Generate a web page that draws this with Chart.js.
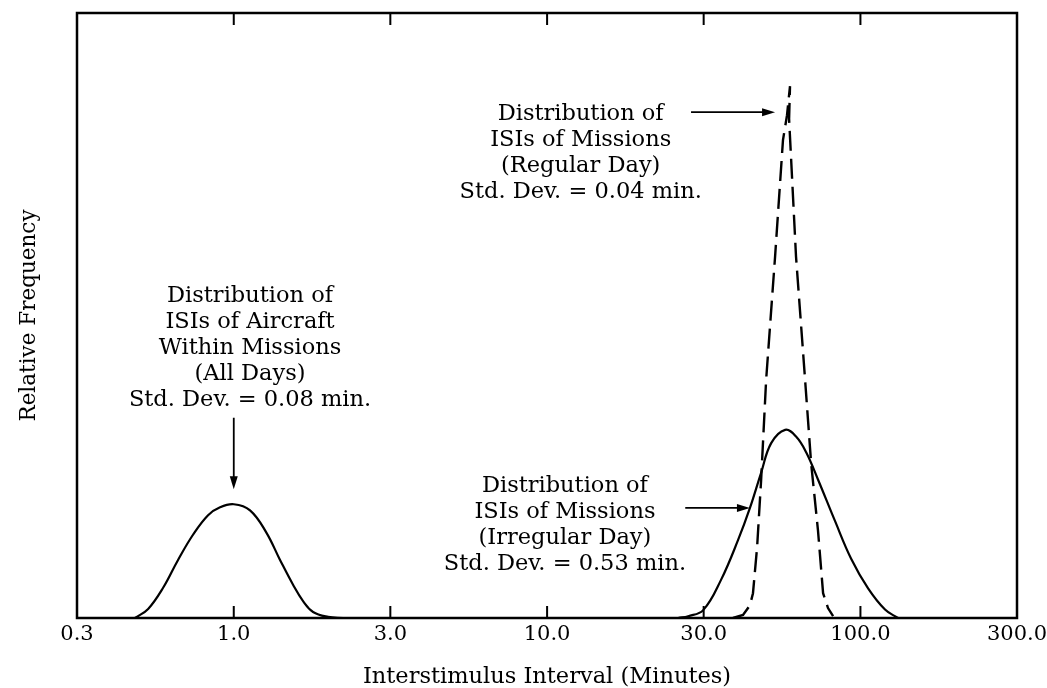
<!DOCTYPE html>
<html>
<head>
<meta charset="utf-8">
<script src="https://cdn.jsdelivr.net/npm/chart.js@4/dist/chart.umd.min.js"></script>
<style>
  html, body { margin: 0; padding: 0; background: #fff; }
  #wrap { width: 1047px; height: 688px; position: relative; }
</style>
</head>
<body>
<div id="wrap"><canvas id="grafico"></canvas></div>
<script>
// x axis: half-decade steps, labelled the way the paper rounds them
const tickValues = [0.316, 1, 3.16, 10, 31.6, 100, 316];
const tickLabels = ['0.3', '1.0', '3.0', '10.0', '30.0', '100.0', '300.0'];

// aircraft within missions (all days)
const aircraftMin  = [0.484, 0.533, 0.595, 0.664, 0.742, 0.828, 0.904, 1.0, 1.127, 1.268, 1.405, 1.546, 1.664, 1.791, 2.0, 2.233];
const aircraftFreq = [0, 1.5, 5, 9.6, 13.8, 17, 18.3, 18.8, 17.8, 14.2, 9.6, 5.5, 2.8, 1.0, 0.2, 0];

// missions, irregular day (solid)
const irregMin  = [26.2, 28.2, 31.5, 35.9, 40.7, 44.4, 48.2, 51.9, 57.5, 62.3, 67.1, 73.2, 83.0, 93.4, 105.8, 119.8, 131.8];
const irregFreq = [0, 0.3, 1.3, 6.3, 12.9, 18.2, 24, 28.9, 31.1, 30.0, 27.4, 22.9, 16.0, 9.8, 4.9, 1.4, 0];

// missions, regular day (dashed)
const regMin  = [39.2, 42.2, 44.4, 45.4, 46.8, 48.2, 50.0, 53.4, 56.6, 58.3, 59.6, 59.2, 62.3, 66.6, 69.6, 73.2, 76.0, 78.8, 81.8];
const regFreq = [0, 0.5, 2.1, 4.1, 11.7, 22.8, 39.3, 59.7, 79.0, 83.1, 87.9, 82.5, 59.7, 39.3, 25.6, 14.5, 4.1, 1.65, 0.3];

const pares = (xs, ys) => xs.map((x, i) => ({ x: x, y: ys[i] }));

// notas: texto centrado em (x, y) e setas entre dois pontos, em unidades dos eixos
const notas = [
  { x: 12.8, y: 82.3, linhas: ['Distribution of', 'ISIs of Missions', '(Regular Day)', 'Std. Dev. = 0.04 min.'] },
  { x: 1.127, y: 52.2, linhas: ['Distribution of', 'ISIs of Aircraft', 'Within Missions', '(All Days)', 'Std. Dev. = 0.08 min.'] },
  { x: 11.4, y: 20.8, linhas: ['Distribution of', 'ISIs of Missions', '(Irregular Day)', 'Std. Dev. = 0.53 min.'] }
];
const setas = [
  { de: [28.8, 83.6], para: [53.4, 83.6] },
  { de: [1.0, 33.1], para: [1.0, 21.3] },
  { de: [27.6, 18.2], para: [44.4, 18.2] }
];

const fonte = 'DejaVu Serif';

const molduraPlugin = {
  id: 'moldura',
  afterDatasetsDraw(chart) {
    const { ctx, chartArea: a, scales: { x, y } } = chart;
    ctx.save();
    ctx.strokeStyle = '#000';
    ctx.lineWidth = 2.5;
    ctx.strokeRect(a.left, a.top, a.right - a.left, a.bottom - a.top);

    // marcas internas em cima e embaixo
    ctx.lineWidth = 2;
    tickValues.slice(1, -1).forEach(v => {
      const px = x.getPixelForValue(v);
      ctx.beginPath();
      ctx.moveTo(px, a.top); ctx.lineTo(px, a.top + 12);
      ctx.moveTo(px, a.bottom); ctx.lineTo(px, a.bottom - 12);
      ctx.stroke();
    });

    ctx.fillStyle = '#000';
    ctx.font = '22.5px "' + fonte + '"';
    ctx.textAlign = 'center';
    ctx.textBaseline = 'alphabetic';
    notas.forEach(n => {
      const cx = x.getPixelForValue(n.x);
      const cy = y.getPixelForValue(n.y);
      n.linhas.forEach((t, i) => ctx.fillText(t, cx, cy + i * 26));
    });

    ctx.lineWidth = 1.8;
    setas.forEach(s => {
      const x0 = x.getPixelForValue(s.de[0]), y0 = y.getPixelForValue(s.de[1]);
      const x1 = x.getPixelForValue(s.para[0]), y1 = y.getPixelForValue(s.para[1]);
      const ang = Math.atan2(y1 - y0, x1 - x0);
      ctx.beginPath();
      ctx.moveTo(x0, y0);
      ctx.lineTo(x1 - 10 * Math.cos(ang), y1 - 10 * Math.sin(ang));
      ctx.stroke();
      ctx.beginPath();
      ctx.moveTo(x1, y1);
      ctx.lineTo(x1 - 13 * Math.cos(ang) + 4 * Math.sin(ang), y1 - 13 * Math.sin(ang) - 4 * Math.cos(ang));
      ctx.lineTo(x1 - 13 * Math.cos(ang) - 4 * Math.sin(ang), y1 - 13 * Math.sin(ang) + 4 * Math.cos(ang));
      ctx.closePath();
      ctx.fill();
    });
    ctx.restore();
  }
};

new Chart(document.getElementById('grafico'), {
  type: 'line',
  data: {
    datasets: [
      { data: pares(aircraftMin, aircraftFreq), borderColor: '#000', borderWidth: 2.2, pointRadius: 0, tension: 0.4 },
      { data: pares(irregMin, irregFreq), borderColor: '#000', borderWidth: 2.2, pointRadius: 0, tension: 0.4 },
      { data: pares(regMin, regFreq), borderColor: '#000', borderWidth: 2.4, borderDash: [20, 8], pointRadius: 0, tension: 0 }
    ]
  },
  options: {
    responsive: true,
    maintainAspectRatio: false,
    animation: false,
    layout: { padding: { left: 0, right: 30, top: 13, bottom: 0 } },
    plugins: { legend: { display: false }, tooltip: { enabled: false } },
    scales: {
      x: {
        type: 'logarithmic',
        bounds: 'data',
        min: tickValues[0],
        max: tickValues[tickValues.length - 1],
        grid: { display: false, drawTicks: false },
        border: { display: false },
        afterBuildTicks: s => { s.ticks = tickValues.map(v => ({ value: v })); },
        afterFit: s => { s.height = 70; s.paddingLeft = 0; s.paddingRight = 0; },
        ticks: {
          autoSkip: false, maxRotation: 0, padding: 4, color: '#000',
          font: { family: fonte, size: 21 },
          callback: (v, i) => tickLabels[i]
        },
        title: {
          display: true, text: 'Interstimulus Interval (Minutes)', color: '#000',
          font: { family: fonte, size: 22.5, lineHeight: 1 }, padding: { top: 0, bottom: 0 }
        }
      },
      y: {
        type: 'linear', min: 0, max: 100,
        grid: { display: false, drawTicks: false },
        border: { display: false },
        ticks: { display: false },
        afterFit: s => { s.width = 77; },
        title: {
          display: true, text: 'Relative Frequency', color: '#000',
          font: { family: fonte, size: 21.5, lineHeight: 1 }, padding: { top: 19, bottom: 0 }
        }
      }
    }
  },
  plugins: [molduraPlugin]
});
</script>
</body>
</html>
